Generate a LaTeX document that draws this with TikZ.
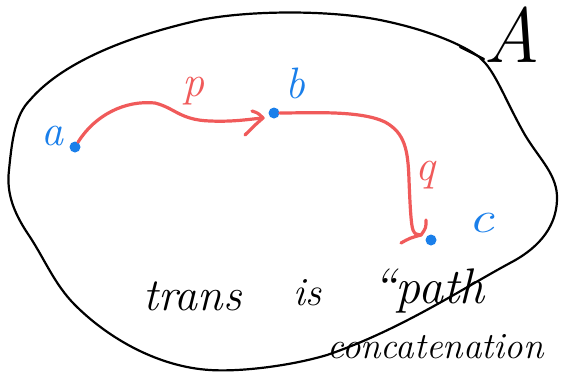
\documentclass[tikz,border=0pt]{standalone}
\usetikzlibrary{arrows.meta}
\definecolor{penred}{HTML}{F05A5A}
\definecolor{penblue}{HTML}{1A7FEA}
\begin{document}
\begin{tikzpicture}[x=1pt,y=-1pt,
  blob/.style={line width=2.2pt, line cap=round, line join=round},
  dotmark/.style={ellipse/.try, circle, fill=penblue, inner sep=0pt, minimum size=11pt},
  patharrow/.style={penred, line width=3.2pt, line cap=round, line join=round},
  bluelbl/.style={text=penblue, inner sep=0pt, font=\fontsize{44}{44}\selectfont\itshape},
  redlbl/.style={text=penred, inner sep=0pt, font=\fontsize{44}{44}\selectfont\itshape},
  hand/.style={text=black, inner sep=0pt, anchor=base west},
]
\useasboundingbox (0,0) rectangle (561,373);
% blob A
\draw[blob] (480,58) .. controls (495,70) and (505,100) .. (525,135)
  .. controls (540,160) and (558,175) .. (557,200)
  .. controls (556,230) and (535,250) .. (510,263)
  .. controls (460,290) and (400,330) .. (327,355)
  .. controls (290,366) and (240,372) .. (210,370)
  .. controls (160,367) and (110,340) .. (75,305)
  .. controls (55,285) and (45,260) .. (30,237)
  .. controls (15,215) and (6,195) .. (9,170)
  .. controls (12,140) and (15,115) .. (30,100)
  .. controls (60,65) and (120,38) .. (200,20)
  .. controls (250,10) and (330,10) .. (380,20)
  .. controls (420,28) and (460,42) .. (482,59);
\draw[blob] (460,47) -- (484,59);
\node[anchor=base, inner sep=0pt, font=\fontsize{78}{78}\selectfont\itshape] (Alabel) at (512,62) {A};
% points
\node[dotmark] (a) at (75,147) {};
\node[dotmark] (b) at (274,113) {};
\node[dotmark] (c) at (431,240) {};
\node[bluelbl, anchor=base] (alabel) at (52,145) {a};
\node[bluelbl, anchor=base] (blabel) at (295,98) {b};
\node[bluelbl, anchor=base, xscale=1.3] (clabel) at (481,232) {c};
% arrow tips
\coordinate (ptip) at (263,118);
\coordinate (parm1) at (252,111);
\coordinate (parm2) at (245,135);
\coordinate (qtip) at (421,235);
\coordinate (qarm1) at (426,220);
\coordinate (qarm2) at (401,243);
% paths
\draw[patharrow] (a) .. controls (95,115) and (125,100) .. (155,103)
  .. controls (175,108) and (180,120) .. (210,121)
  .. controls (235,122) and (250,119) .. (ptip);
\draw[patharrow] (parm1) .. controls (258,113) .. (ptip) .. controls (255,125) .. (parm2);
\draw[patharrow] (b) .. controls (310,113) and (360,110) .. (385,122)
  .. controls (405,133) and (408,150) .. (409,180)
  .. controls (410,205) and (411,225) .. (413,230) .. controls (415,234) .. (qtip);
\draw[patharrow] (qarm1) .. controls (426,228) .. (qtip) .. controls (410,238) .. (qarm2);
\node[redlbl, anchor=base] (plabel) at (193,96) {p};
\node[redlbl, anchor=base] (qlabel) at (425,180) {q};
% caption
\node[hand, font=\fontsize{46}{46}\selectfont\itshape] (t1) at (143,310) {trans};
\node[hand, font=\fontsize{40}{40}\selectfont\itshape] (t2) at (293,305) {is};
\node[hand, font=\fontsize{50}{50}\selectfont\itshape] (t3) at (372,303) {``path};
\node[hand, font=\fontsize{37}{37}\selectfont\itshape] (t4) at (327,358) {concatenation};
\end{tikzpicture}
\end{document}
